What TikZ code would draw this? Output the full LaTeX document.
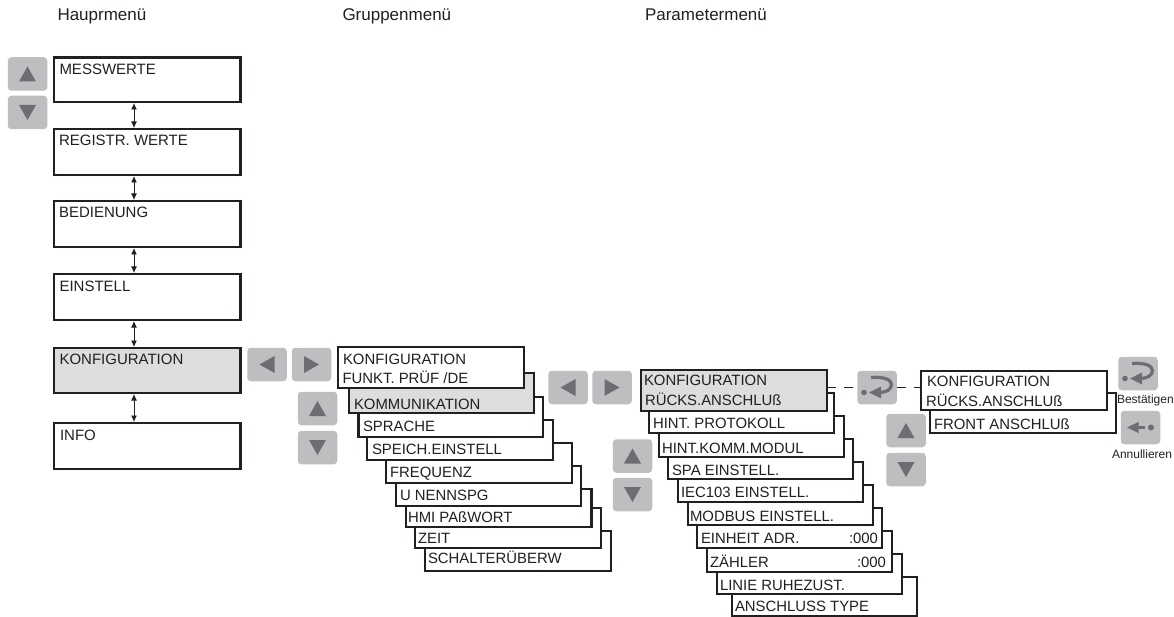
\documentclass[tikz,border=0pt]{standalone}
\usepackage{fontspec}
\setmainfont{Liberation Sans}
\usetikzlibrary{arrows.meta}
\definecolor{ink}{HTML}{231F20}
\definecolor{btn}{HTML}{BCBEC0}
\definecolor{glyph}{HTML}{6D6E71}
\definecolor{hilite}{HTML}{DCDDDE}
\tikzset{
 menubox/.style={draw=ink,line width=2.1pt,fill=white,inner sep=0pt,outer sep=0pt},
 selbox/.style={menubox,fill=hilite},
 mtext/.style={anchor=base west,inner sep=0pt,outer sep=0pt,text=ink,font=\fontsize{15}{15}\selectfont},
 stext/.style={anchor=base west,inner sep=0pt,outer sep=0pt,text=ink,font=\fontsize{14.9}{14.9}\selectfont},
 htext/.style={anchor=base west,inner sep=0pt,outer sep=0pt,text=ink,font=\fontsize{17}{17}\selectfont},
 ltext/.style={anchor=base west,inner sep=0pt,outer sep=0pt,text=ink,font=\fontsize{12}{12}\selectfont},
 button/.style={fill=btn,rounded corners=3.5pt,draw=none,inner sep=0pt,outer sep=0pt,minimum width=39.5pt,minimum height=33.5pt},
 link/.style={draw=ink,line width=0.9pt,{Latex[length=6.5pt,width=6pt]}-{Latex[length=6.5pt,width=6pt]},shorten <=1pt,shorten >=1pt},
 dashlink/.style={draw=ink,line width=0.9pt,dash pattern=on 9pt off 8pt},
}
% name, left, top, right, bottom, style
\newcommand{\mybox}[6]{%
 \pgfmathsetmacro{\bw}{#4-#2}\pgfmathsetmacro{\bh}{#5-#3}%
 \node[#6,anchor=north west,minimum width=\bw pt,minimum height=\bh pt] (#1) at (#2,#3) {};}
% button centre at x,y
\newcommand{\upbtn}[3]{\node[button] (#1) at (#2,#3) {};
 \fill[glyph] (#2,#3)++(-8.5,7.5) -- ++(17,0) -- ++(-8.5,-15) -- cycle;}
\newcommand{\dnbtn}[3]{\node[button] (#1) at (#2,#3) {};
 \fill[glyph] (#2,#3)++(-8.5,-7.5) -- ++(17,0) -- ++(-8.5,15) -- cycle;}
\newcommand{\ltbtn}[3]{\node[button] (#1) at (#2,#3) {};
 \fill[glyph] (#2,#3)++(7.5,-8.5) -- ++(0,17) -- ++(-15,-8.5) -- cycle;}
\newcommand{\rtbtn}[3]{\node[button] (#1) at (#2,#3) {};
 \fill[glyph] (#2,#3)++(-7.5,-8.5) -- ++(0,17) -- ++(15,-8.5) -- cycle;}
\newcommand{\okbtn}[3]{\node[button] (#1) at (#2,#3) {};
 \begin{scope}[shift={(#2,#3)}]
 \fill[glyph] (-13,5) circle (2.8);
 \fill[glyph] (-8,5) -- (4,-1) -- (4,11) -- cycle;
 \draw[glyph,line width=3.2pt] (-6,-10) .. controls (6,-11) and (14.5,-8) .. (14.5,-3) .. controls (14.5,2) and (9,5) .. (2,5);
 \end{scope}}
\newcommand{\escbtn}[3]{\node[button] (#1) at (#2,#3) {};
 \begin{scope}[shift={(#2,#3)}]
 \fill[glyph] (10.5,0) circle (3);
 \fill[glyph] (-13.5,0) -- (-2,-5.5) -- (-2,5.5) -- cycle;
 \fill[glyph] (-3,-1.6) rectangle (4.6,1.6);
 \end{scope}}
\begin{document}
\begin{tikzpicture}[x=1pt,y=-1pt]
\useasboundingbox (0,0) rectangle (1174,617);
% headers
\node[htext] (h1) at (57.5,21) {Hauprmenü};
\node[htext] (h2) at (342.5,21) {Gruppenmenü};
\node[htext] (h3) at (645,21) {Parametermenü};
% main menu
\coordinate (lx) at (134,0);
\mybox{m1}{54}{57.5}{240.5}{102}{menubox}
\mybox{m2}{54}{129}{240.5}{175}{menubox}
\mybox{m3}{54}{201}{240.5}{247}{menubox}
\mybox{m4}{54}{274}{240.5}{320}{menubox}
\mybox{m5}{54}{348}{240.5}{393}{selbox}
\mybox{m6}{54}{423}{240.5}{469}{menubox}
\node[mtext] (m1t) at (59.5,75) {MESSWERTE};
\node[mtext] (m2t) at (59,146) {REGISTR. WERTE};
\node[mtext] (m3t) at (59,218) {BEDIENUNG};
\node[mtext] (m4t) at (59.5,291) {EINSTELL};
\node[mtext] (m5t) at (59.5,364) {KONFIGURATION};
\node[mtext] (m6t) at (60,440) {INFO};
\draw[link] (m1.south -| lx) -- (m2.north -| lx);
\draw[link] (m2.south -| lx) -- (m3.north -| lx);
\draw[link] (m3.south -| lx) -- (m4.north -| lx);
\draw[link] (m4.south -| lx) -- (m5.north -| lx);
\draw[link] (m5.south -| lx) -- (m6.north -| lx);
% buttons
\upbtn{b1}{27.5}{74}
\dnbtn{b2}{27.5}{112.5}
\ltbtn{b3}{267}{364.5}
\rtbtn{b4}{311.5}{364.5}
\upbtn{b5}{317.5}{408.5}
\dnbtn{b6}{317.5}{447.5}
\ltbtn{b7}{568}{387.5}
\rtbtn{b8}{612}{387.5}
\upbtn{b9}{632.5}{456}
\dnbtn{b10}{632.5}{494.5}
\upbtn{b11}{906}{430.5}
\dnbtn{b12}{906}{469.5}
% group stack
\mybox{g9}{425}{531}{611}{571}{menubox}
\mybox{g8}{415}{508}{601}{548}{menubox}
\mybox{g7}{406}{489}{591.5}{527}{menubox}
\mybox{g6}{396}{466}{581}{506}{menubox}
\mybox{g5}{386}{443}{572}{483}{menubox}
\mybox{g4}{367}{420}{553}{460}{menubox}
\mybox{g3}{358.5}{397}{543}{437}{menubox}
\mybox{g2}{349}{373}{534}{413}{selbox}
\mybox{g1}{338}{347}{524}{388}{menubox}
\node[stext] (g1a) at (343,364) {KONFIGURATION};
\node[stext] (g1b) at (342.5,383) {FUNKT. PRÜF /DE};
\node[stext] (g2t) at (354,409) {KOMMUNIKATION};
\node[stext] (g3t) at (363,431) {SPRACHE};
\node[stext] (g4t) at (372,454) {SPEICH.EINSTELL};
\node[stext] (g5t) at (390,477) {FREQUENZ};
\node[stext] (g6t) at (400,500) {U NENNSPG};
\node[stext] (g7t) at (408,522) {HMI PAßWORT};
\node[stext] (g8t) at (418,543) {ZEIT};
\node[stext] (g9t) at (428,563) {SCHALTERÜBERW};
% parameter stack
\mybox{p10}{732}{577}{917}{616}{menubox}
\mybox{p9}{717}{554}{902}{594}{menubox}
\mybox{p8}{707}{531}{892}{572}{menubox}
\mybox{p7}{697}{508}{882}{548}{menubox}
\mybox{p6}{688}{485}{873}{525}{menubox}
\mybox{p5}{678}{462}{863}{502}{menubox}
\mybox{p4}{668}{439}{853}{479}{menubox}
\mybox{p3}{659}{416}{844}{457}{menubox}
\mybox{p2}{649}{393}{834}{433}{menubox}
\mybox{p1}{641}{370}{827}{411}{selbox}
\node[stext] (p1a) at (644,385) {KONFIGURATION};
\node[stext] (p1b) at (645,405) {RÜCKS.ANSCHLUß};
\node[stext] (p2t) at (653,428) {HINT. PROTOKOLL};
\node[stext] (p3t) at (662,453) {HINT.KOMM.MODUL};
\node[stext] (p4t) at (672,475) {SPA EINSTELL.};
\node[stext] (p5t) at (681,497) {IEC103 EINSTELL.};
\node[stext] (p6t) at (690,521) {MODBUS EINSTELL.};
\node[stext] (p7t) at (701,543) {EINHEIT ADR.};
\node[stext,anchor=base east] (p7v) at (878,543) {:000};
\node[stext] (p8t) at (710,567) {ZÄHLER};
\node[stext,anchor=base east] (p8v) at (886,567) {:000};
\node[stext] (p9t) at (720,590) {LINIE RUHEZUST.};
\node[stext] (p10t) at (735,611) {ANSCHLUSS TYPE};
% confirm stack
\mybox{r2}{930}{393}{1116}{433}{menubox}
\mybox{r1}{921}{371}{1107}{410}{menubox}
\node[stext] (r1a) at (927,386) {KONFIGURATION};
\node[stext] (r1b) at (926,406) {RÜCKS.ANSCHLUß};
\node[stext] (r2t) at (934,429) {FRONT ANSCHLUß};
% enter and links
\okbtn{ok1}{877}{387.5}
\draw[dashlink] (p1.east |- ok1) -- (ok1.west);
\draw[dashlink] (ok1.east) -- (r1.west |- ok1);
\okbtn{ok2}{1138}{373.5}
\escbtn{esc}{1140.5}{427.5}
\node[ltext] (l1) at (1117,403) {Bestätigen};
\node[ltext] (l2) at (1112,458) {Annullieren};
\end{tikzpicture}
\end{document}
